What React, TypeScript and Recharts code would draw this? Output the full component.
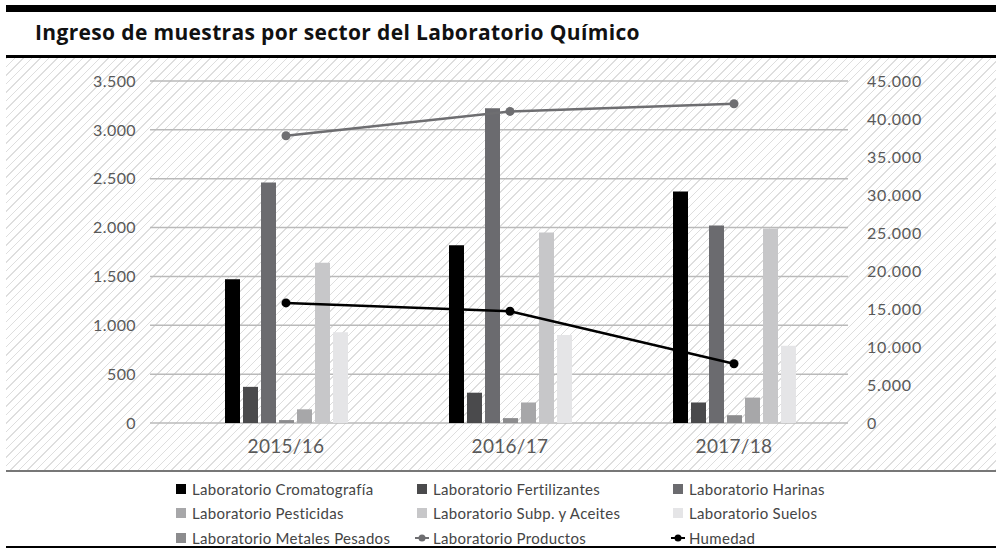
import React from 'react';
import { ComposedChart, Bar, Line, XAxis, YAxis, CartesianGrid, Legend } from 'recharts';

const categories = ['2015/16', '2016/17', '2017/18'];
const cromatografia = [1470, 1820, 2370];
const fertilizantes = [370, 310, 210];
const harinas = [2460, 3220, 2020];
const metalesPesados = [30, 50, 80];
const pesticidas = [140, 210, 260];
const subpAceites = [1640, 1950, 1990];
const suelos = [930, 900, 790];
const productos = [37800, 41000, 42000];
const humedad = [15800, 14700, 7800];

const leftTicks = [0, 500, 1000, 1500, 2000, 2500, 3000, 3500];
const rightTicks = [0, 5000, 10000, 15000, 20000, 25000, 30000, 35000, 40000, 45000];

const data = categories.map((c, i) => ({
  cat: c,
  cromatografia: cromatografia[i],
  fertilizantes: fertilizantes[i],
  harinas: harinas[i],
  metales: metalesPesados[i],
  pesticidas: pesticidas[i],
  subp: subpAceites[i],
  suelos: suelos[i],
  productos: productos[i],
  humedad: humedad[i],
}));

const COLORS = {
  cromatografia: '#000000',
  fertilizantes: '#4a4a4c',
  harinas: '#6b6b6f',
  metales: '#8c8c8e',
  pesticidas: '#a7a7a9',
  subp: '#c7c7c9',
  suelos: '#e5e5e7',
  productos: '#6e6e71',
  humedad: '#000000',
};

const FONT = 'Lato, "Open Sans", sans-serif';

const fmt = (v: number) => String(v).replace(/\B(?=(\d{3})+(?!\d))/g, '.');

type LegendItem = { label: string; color: string; kind: 'square' | 'line'; col: number; row: number };
const legendItems: LegendItem[] = [
  { label: 'Laboratorio Cromatografía', color: COLORS.cromatografia, kind: 'square', col: 0, row: 0 },
  { label: 'Laboratorio Fertilizantes', color: COLORS.fertilizantes, kind: 'square', col: 1, row: 0 },
  { label: 'Laboratorio Harinas', color: COLORS.harinas, kind: 'square', col: 2, row: 0 },
  { label: 'Laboratorio Pesticidas', color: COLORS.pesticidas, kind: 'square', col: 0, row: 1 },
  { label: 'Laboratorio Subp. y Aceites', color: COLORS.subp, kind: 'square', col: 1, row: 1 },
  { label: 'Laboratorio Suelos', color: COLORS.suelos, kind: 'square', col: 2, row: 1 },
  { label: 'Laboratorio Metales Pesados', color: COLORS.metales, kind: 'square', col: 0, row: 2 },
  { label: 'Laboratorio Productos', color: COLORS.productos, kind: 'line', col: 1, row: 2 },
  { label: 'Humedad', color: COLORS.humedad, kind: 'line', col: 2, row: 2 },
];
const colX = [176, 417, 673];
const rowY = [9, 33, 58];

const renderLegend = () => (
  <div style={{ position: 'relative', width: 996, height: 70, fontFamily: FONT }}>
    {legendItems.map((it) => (
      <div
        key={it.label}
        style={{
          position: 'absolute',
          left: it.kind === 'line' ? colX[it.col] - 2 : colX[it.col],
          top: rowY[it.row] - 10,
          height: 20,
          display: 'flex',
          alignItems: 'center',
          whiteSpace: 'nowrap',
        }}
      >
        {it.kind === 'square' ? (
          <span style={{ display: 'inline-block', width: 10, height: 10, background: it.color, marginRight: 6 }} />
        ) : (
          <svg width={14} height={10} style={{ marginRight: 4 }}>
            <line x1={0} y1={5} x2={14} y2={5} stroke={it.color} strokeWidth={2} />
            <circle cx={7} cy={5} r={3.5} fill={it.color} />
          </svg>
        )}
        <span style={{ fontSize: 15, letterSpacing: 0.3, color: '#454545' }}>{it.label}</span>
      </div>
    ))}
  </div>
);

export default function App() {
  return (
    <div style={{ position: 'absolute', left: 0, top: 0, width: 996, height: 557, background: '#fff', overflow: 'hidden' }}>
      <div style={{ position: 'absolute', left: 6, top: 5, width: 990, height: 7, background: '#000' }} />
      <div
        style={{
          position: 'absolute',
          left: 35,
          top: 22,
          fontFamily: '"Open Sans", Lato, sans-serif',
          fontWeight: 700,
          fontSize: 21,
          letterSpacing: 0.35,
          lineHeight: '21px',
          color: '#111',
          whiteSpace: 'nowrap',
        }}
      >
        Ingreso de muestras por sector del Laboratorio Químico
      </div>
      <div style={{ position: 'absolute', left: 6, top: 55, width: 990, height: 3, background: '#000' }} />
      <div
        style={{
          position: 'absolute',
          left: 6,
          top: 58,
          width: 990,
          height: 412,
          background: 'repeating-linear-gradient(135deg, #dedede 0px, #dedede 1px, #ffffff 1px, #ffffff 6px)',
        }}
      />
      <div style={{ position: 'absolute', left: 6, top: 470, width: 990, height: 2, background: '#777' }} />
      <div style={{ position: 'absolute', left: 6, top: 546, width: 990, height: 2, background: '#000' }} />
      <div style={{ position: 'absolute', left: 0, top: 58 }}>
        <ComposedChart
          width={996}
          height={488}
          data={data}
          margin={{ top: 23, right: 0, bottom: 23, left: 0 }}
          barSize={15}
          barGap={3}
        >
          <CartesianGrid yAxisId="left" vertical={false} stroke="#bababa" strokeWidth={1.5} />
          <XAxis
            dataKey="cat"
            axisLine={false}
            tickLine={false}
            height={30}
            padding={{ left: 24, right: 2 }}
            tickMargin={11}
            tick={{ fontSize: 19, fill: '#595959', fontFamily: FONT, letterSpacing: 0.3 }}
          />
          <YAxis
            yAxisId="left"
            orientation="left"
            width={150}
            domain={[0, 3500]}
            ticks={leftTicks}
            axisLine={false}
            tickLine={false}
            tickMargin={8}
            tickFormatter={fmt}
            tick={{ fontSize: 16, fill: '#595959', fontFamily: FONT, letterSpacing: 0.4 }}
          />
          <YAxis
            yAxisId="right"
            orientation="right"
            width={148}
            domain={[0, 45000]}
            ticks={rightTicks}
            axisLine={false}
            tickLine={false}
            tickMargin={13}
            tickFormatter={fmt}
            tick={{ fontSize: 16, fill: '#595959', fontFamily: FONT, textAnchor: 'start', letterSpacing: 0.8 }}
          />
          <Legend verticalAlign="bottom" content={renderLegend} wrapperStyle={{ left: 0, top: 422, width: 996, height: 70 }} />
          <Bar yAxisId="left" dataKey="cromatografia" name="Laboratorio Cromatografía" fill={COLORS.cromatografia} isAnimationActive={false} />
          <Bar yAxisId="left" dataKey="fertilizantes" name="Laboratorio Fertilizantes" fill={COLORS.fertilizantes} isAnimationActive={false} />
          <Bar yAxisId="left" dataKey="harinas" name="Laboratorio Harinas" fill={COLORS.harinas} isAnimationActive={false} />
          <Bar yAxisId="left" dataKey="metales" name="Laboratorio Metales Pesados" fill={COLORS.metales} isAnimationActive={false} />
          <Bar yAxisId="left" dataKey="pesticidas" name="Laboratorio Pesticidas" fill={COLORS.pesticidas} isAnimationActive={false} />
          <Bar yAxisId="left" dataKey="subp" name="Laboratorio Subp. y Aceites" fill={COLORS.subp} isAnimationActive={false} />
          <Bar yAxisId="left" dataKey="suelos" name="Laboratorio Suelos" fill={COLORS.suelos} isAnimationActive={false} />
          <Line
            yAxisId="right"
            type="linear"
            dataKey="productos"
            name="Laboratorio Productos"
            stroke={COLORS.productos}
            strokeWidth={2.5}
            dot={{ r: 4.5, fill: COLORS.productos, stroke: COLORS.productos, strokeWidth: 0 }}
            activeDot={false}
            isAnimationActive={false}
          />
          <Line
            yAxisId="right"
            type="linear"
            dataKey="humedad"
            name="Humedad"
            stroke={COLORS.humedad}
            strokeWidth={2.5}
            dot={{ r: 4.5, fill: COLORS.humedad, stroke: COLORS.humedad, strokeWidth: 0 }}
            activeDot={false}
            isAnimationActive={false}
          />
        </ComposedChart>
      </div>
    </div>
  );
}
